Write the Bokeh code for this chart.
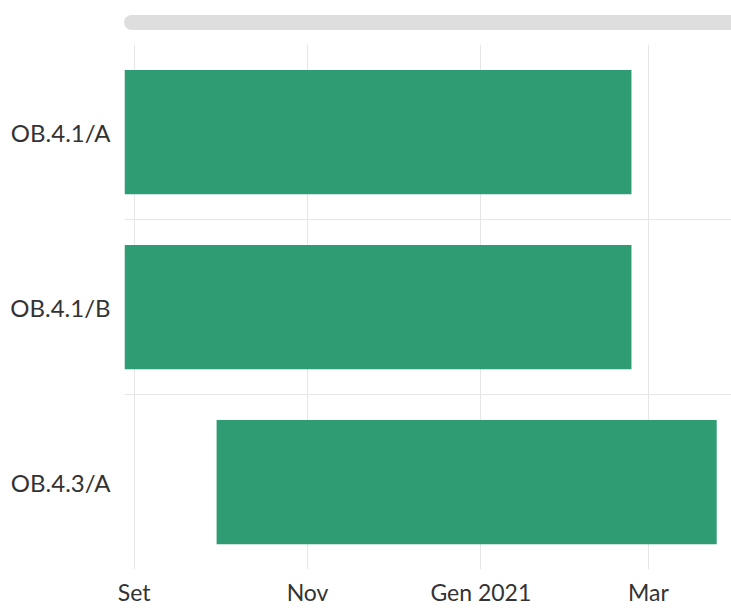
from datetime import datetime, timedelta
from bokeh.plotting import figure
from bokeh.models import Range1d, FixedTicker, ColumnDataSource, Div
from bokeh.layouts import column
from bokeh.embed import file_html
from bokeh.resources import INLINE

# ---- data ----
tasks = ["OB.4.1/A", "OB.4.1/B", "OB.4.3/A"]
starts = [datetime(2020, 7, 1), datetime(2020, 7, 1), datetime(2020, 9, 30)]
ends = [datetime(2021, 2, 23), datetime(2021, 2, 23), datetime(2021, 3, 25)]
tick_dates = [datetime(2020, 9, 1), datetime(2020, 11, 1), datetime(2021, 1, 1), datetime(2021, 3, 1)]
tick_labels = ["Set", "Nov", "Gen 2021", "Mar"]
view_start = datetime(2020, 8, 28, 14)
view_end = datetime(2021, 3, 30, 5)

EPOCH = datetime(1970, 1, 1)
def ms(d):
    return (d - EPOCH) / timedelta(milliseconds=1)

n = len(tasks)
ypos = [n - i - 0.5 for i in range(n)]
src = ColumnDataSource(dict(y=ypos, left=starts, right=ends, task=tasks))

FONT = "Lato"
TXT = "#333333"

p = figure(width=731, height=572, x_axis_type="datetime",
           x_range=Range1d(view_start, view_end), y_range=Range1d(0, n),
           output_backend="svg", toolbar_location=None,
           min_border_left=124, min_border_right=0, min_border_top=8, min_border_bottom=39)
p.outline_line_color = None
p.background_fill_color = "white"

p.hbar(y="y", left="left", right="right", height=0.71, source=src,
       fill_color="#2f9c74", line_color=None)

# x axis
xt = [ms(d) for d in tick_dates]
p.xaxis.ticker = FixedTicker(ticks=xt)
p.xaxis.major_label_overrides = {t: l for t, l in zip(xt, tick_labels)}
p.xgrid.ticker = FixedTicker(ticks=xt)
# y axis
p.yaxis.ticker = FixedTicker(ticks=ypos)
p.yaxis.major_label_overrides = {y: t for y, t in zip(ypos, tasks)}
p.ygrid.ticker = FixedTicker(ticks=list(range(n + 1)))

for ax in (p.xaxis[0], p.yaxis[0]):
    ax.axis_line_color = None
    ax.major_tick_line_color = None
    ax.minor_tick_line_color = None
    ax.major_tick_out = 0
    ax.major_tick_in = 0
    ax.major_label_text_font = FONT
    ax.major_label_text_color = TXT
p.xaxis.major_label_text_font_size = "23px"
p.yaxis.major_label_text_font_size = "24px"
p.xaxis.major_label_standoff = 8
p.yaxis.major_label_standoff = 14

for g in (p.xgrid[0], p.ygrid[0]):
    g.grid_line_color = "#e6e6e6"
    g.grid_line_width = 1

scroll = Div(width=731, height=36, margin=0,
             text='<div style="margin-left:124px;margin-top:15px;width:640px;height:15px;'
                  'border-radius:8px;background:#dedede;"></div>',
             styles={"overflow": "hidden"})

layout = column(scroll, p, spacing=0)
open("out.html", "w").write(file_html(layout, INLINE))
